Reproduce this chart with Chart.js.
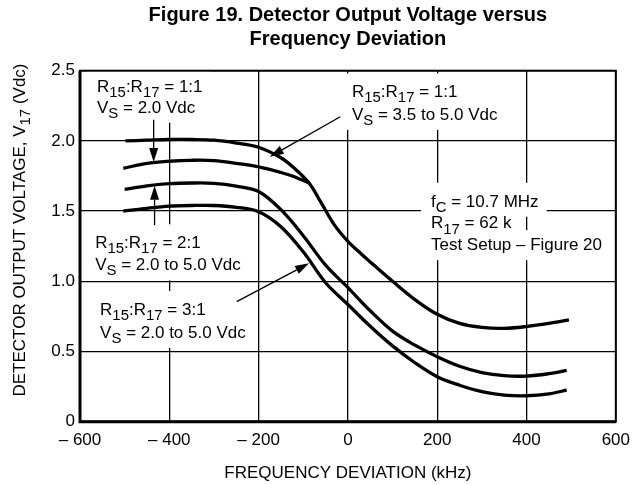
<!DOCTYPE html>
<html>
<head>
<meta charset="utf-8">
<title>Figure 19. Detector Output Voltage versus Frequency Deviation</title>
<script src="https://cdn.jsdelivr.net/npm/chart.js@4.4.1/dist/chart.umd.min.js"></script>
<style>
  html, body { margin: 0; padding: 0; background: #fff; }
  canvas { display: block; }
</style>
</head>
<body>
<canvas id="chart" width="638" height="485"></canvas>
<script>
// ── Data (kHz, Vdc) ────────────────────────────────────
// R15:R17 = 1:1, VS = 3.5 to 5.0 Vdc
const freqA = [-498, -450, -400, -350, -300, -250, -200, -150, -120, -87, -60, -30, 0, 30, 60, 100, 150, 200, 250, 300, 350, 400, 450, 495];
const voltA = [2.00, 2.005, 2.01, 2.01, 2.005, 1.985, 1.955, 1.88, 1.805, 1.70, 1.56, 1.40, 1.285, 1.195, 1.11, 1.00, 0.87, 0.765, 0.70, 0.672, 0.665, 0.678, 0.70, 0.725];
// R15:R17 = 1:1, VS = 2.0 Vdc (joins curve A)
const freqB = [-503, -450, -400, -350, -300, -250, -200, -150, -120, -87];
const voltB = [1.805, 1.84, 1.855, 1.862, 1.86, 1.84, 1.815, 1.775, 1.745, 1.70];
// R15:R17 = 2:1, VS = 2.0 to 5.0 Vdc
const freqC = [-500, -450, -400, -350, -300, -250, -200, -150, -100, -50, 0, 50, 100, 150, 200, 250, 300, 350, 400, 450, 490];
const voltC = [1.655, 1.68, 1.695, 1.70, 1.698, 1.678, 1.64, 1.51, 1.325, 1.115, 0.955, 0.79, 0.645, 0.545, 0.463, 0.395, 0.35, 0.328, 0.325, 0.342, 0.365];
// R15:R17 = 3:1, VS = 2.0 to 5.0 Vdc
const freqD = [-503, -450, -400, -350, -300, -250, -200, -150, -100, -50, 0, 50, 100, 150, 200, 250, 300, 350, 400, 450, 490];
const voltD = [1.50, 1.52, 1.535, 1.54, 1.54, 1.527, 1.496, 1.389, 1.21, 0.99, 0.835, 0.68, 0.54, 0.42, 0.32, 0.26, 0.215, 0.19, 0.185, 0.198, 0.225];

const xTickValues = [-600, -400, -200, 0, 200, 400, 600];
const xTickLabels = ['\u2013 600', '\u2013 400', '\u2013 200', '0', '200', '400', '600'];
const yTickValues = [0, 0.5, 1.0, 1.5, 2.0, 2.5];
const yTickLabels = ['0', '0.5', '1.0', '1.5', '2.0', '2.5'];

const titleLines = ['Figure 19. Detector Output Voltage versus', 'Frequency Deviation'];
const xTitle = 'FREQUENCY DEVIATION (kHz)';
const yTitle = 'DETECTOR OUTPUT VOLTAGE, V_{17} (Vdc)';

// text notes: anchor of first baseline in data units, "_{..}" = subscript
const notes = [
  { x: -562, y: 2.35, gap: 21, lines: ['R_{15}:R_{17} = 1:1', 'V_{S} = 2.0 Vdc'] },
  { x: -566, y: 1.235, gap: 22, lines: ['R_{15}:R_{17} = 2:1', 'V_{S} = 2.0 to 5.0 Vdc'] },
  { x: -555, y: 0.76, gap: 23, lines: ['R_{15}:R_{17} = 3:1', 'V_{S} = 2.0 to 5.0 Vdc'] },
  { x: 9, y: 2.31, gap: 22.5, lines: ['R_{15}:R_{17} = 1:1', 'V_{S} = 3.5 to 5.0 Vdc'] },
  { x: 186, y: 1.531, gap: 21.7, lines: ['f_{C} = 10.7 MHz', 'R_{17} = 62 k', 'Test Setup \u2013 Figure 20'] },
];

// arrows: [fromX, fromY, tipX, tipY] in data units
const arrows = [
  [-435, 2.15, -435, 1.85],
  [-433, 1.40, -433, 1.68],
  [-249, 0.855, -87, 1.128],
  [-17, 2.172, -175, 1.887],
];

const FONT = '"Liberation Sans", Arial, Helvetica, sans-serif';
const TEXT_SIZE = 17;

// ── Helpers ────────────────────────────────────────────
const pts = (xs, ys) => xs.map((x, i) => ({ x, y: ys[i] }));

function parseRich(str) {
  const parts = [];
  const re = /_\{([^}]*)\}/g;
  let last = 0, m;
  while ((m = re.exec(str))) {
    if (m.index > last) parts.push({ t: str.slice(last, m.index), sub: false });
    parts.push({ t: m[1], sub: true });
    last = re.lastIndex;
  }
  if (last < str.length) parts.push({ t: str.slice(last), sub: false });
  return parts;
}

function richText(ctx, str, x, y, size, draw) {
  let cx = x;
  for (const p of parseRich(str)) {
    ctx.font = `${p.sub ? size * 0.88 : size}px ${FONT}`;
    if (draw) ctx.fillText(p.t, cx, y + (p.sub ? size * 0.3 : 0));
    cx += ctx.measureText(p.t).width;
  }
  return cx - x;
}

function arrow(ctx, x1, y1, x2, y2) {
  const a = Math.atan2(y2 - y1, x2 - x1);
  const len = 14, half = 4.5;
  const bx = x2 - len * Math.cos(a), by = y2 - len * Math.sin(a);
  ctx.beginPath();
  ctx.moveTo(x1, y1);
  ctx.lineTo(bx, by);
  ctx.stroke();
  ctx.beginPath();
  ctx.moveTo(x2, y2);
  ctx.lineTo(bx + half * Math.sin(a), by - half * Math.cos(a));
  ctx.lineTo(bx - half * Math.sin(a), by + half * Math.cos(a));
  ctx.closePath();
  ctx.fill();
}

// ── Plugin: frame, note backgrounds, texts, arrows ─────
const decor = {
  id: 'decor',
  beforeDatasetsDraw(chart) {
    const { ctx, chartArea: a, scales: { x, y } } = chart;
    ctx.save();
    // white boxes behind notes (they cut the grid)
    ctx.fillStyle = '#fff';
    ctx.textBaseline = 'alphabetic';
    notes.forEach(n => {
      const px = x.getPixelForValue(n.x);
      const py = y.getPixelForValue(n.y);
      n.lines.forEach((line, i) => {
        const w = richText(ctx, line, px, 0, TEXT_SIZE, false);
        const by = py + i * n.gap;
        const up = i === 0 ? 24 : 20;
        ctx.fillRect(px - 10, by - up, w + 18, up + 10);
      });
    });
    // plot frame
    ctx.strokeStyle = '#000';
    ctx.lineWidth = 2;
    ctx.strokeRect(a.left, a.top, a.right - a.left, a.bottom - a.top);
    ctx.lineWidth = 3;
    ctx.beginPath();
    ctx.moveTo(a.left, a.top);
    ctx.lineTo(a.left, a.bottom);
    ctx.lineTo(a.right, a.bottom);
    ctx.stroke();
    ctx.restore();
  },
  afterDatasetsDraw(chart) {
    const { ctx, chartArea: a, scales: { x, y } } = chart;
    ctx.save();
    ctx.fillStyle = '#000';
    ctx.strokeStyle = '#000';
    ctx.textBaseline = 'alphabetic';
    ctx.textAlign = 'left';

    notes.forEach(n => {
      const px = x.getPixelForValue(n.x);
      const py = y.getPixelForValue(n.y);
      n.lines.forEach((line, i) => richText(ctx, line, px, py + i * n.gap, TEXT_SIZE, true));
    });

    ctx.lineWidth = 1.3;
    arrows.forEach(([x1, y1, x2, y2]) => {
      arrow(ctx, x.getPixelForValue(x1), y.getPixelForValue(y1), x.getPixelForValue(x2), y.getPixelForValue(y2));
    });

    // title
    const cx = (a.left + a.right) / 2;
    ctx.font = `bold 20px ${FONT}`;
    ctx.textAlign = 'center';
    ctx.fillText(titleLines[0], cx, 21);
    ctx.fillText(titleLines[1], cx, 45);

    // x axis title
    ctx.font = `${TEXT_SIZE}px ${FONT}`;
    ctx.fillText(xTitle, cx, 478);

    // y axis title, rotated, with subscript
    ctx.textAlign = 'left';
    ctx.translate(25, 230);
    ctx.rotate(-Math.PI / 2);
    const w = richText(ctx, yTitle, 0, 0, TEXT_SIZE, false);
    richText(ctx, yTitle, -w / 2, 0, TEXT_SIZE, true);
    ctx.restore();
  }
};

// ── Chart ──────────────────────────────────────────────
const line = (data) => ({
  data,
  showLine: true,
  borderColor: '#000',
  borderWidth: 3.3,
  pointRadius: 0,
  tension: 0.35,
  fill: false,
});

new Chart(document.getElementById('chart'), {
  type: 'scatter',
  data: {
    datasets: [
      line(pts(freqA, voltA)),
      line(pts(freqB, voltB)),
      line(pts(freqC, voltC)),
      line(pts(freqD, voltD)),
    ],
  },
  options: {
    responsive: false,
    animation: false,
    events: [],
    layout: { padding: { left: 0, right: 16, top: 70.7, bottom: 0 } },
    plugins: {
      legend: { display: false },
      tooltip: { enabled: false },
      title: { display: false },
    },
    scales: {
      x: {
        type: 'linear',
        min: -600,
        max: 600,
        border: { display: false },
        grid: { color: '#000', lineWidth: 1.3, drawTicks: false },
        ticks: {
          stepSize: 200,
          padding: 8,
          color: '#000',
          maxRotation: 0,
          autoSkip: false,
          font: { family: FONT, size: TEXT_SIZE },
          callback: v => {
            const i = xTickValues.indexOf(Math.round(v));
            return i >= 0 ? xTickLabels[i] : '';
          },
        },
        afterFit: s => { s.height = 63.3; },
      },
      y: {
        type: 'linear',
        min: 0,
        max: 2.5,
        border: { display: false },
        grid: { color: '#000', lineWidth: 1.3, drawTicks: false },
        ticks: {
          stepSize: 0.5,
          padding: 5,
          color: '#000',
          font: { family: FONT, size: TEXT_SIZE },
          callback: v => {
            const i = yTickValues.indexOf(Math.round(v * 10) / 10);
            return i >= 0 ? yTickLabels[i] : '';
          },
        },
        afterFit: s => { s.width = 80; },
      },
    },
  },
  plugins: [decor],
});
</script>
</body>
</html>
